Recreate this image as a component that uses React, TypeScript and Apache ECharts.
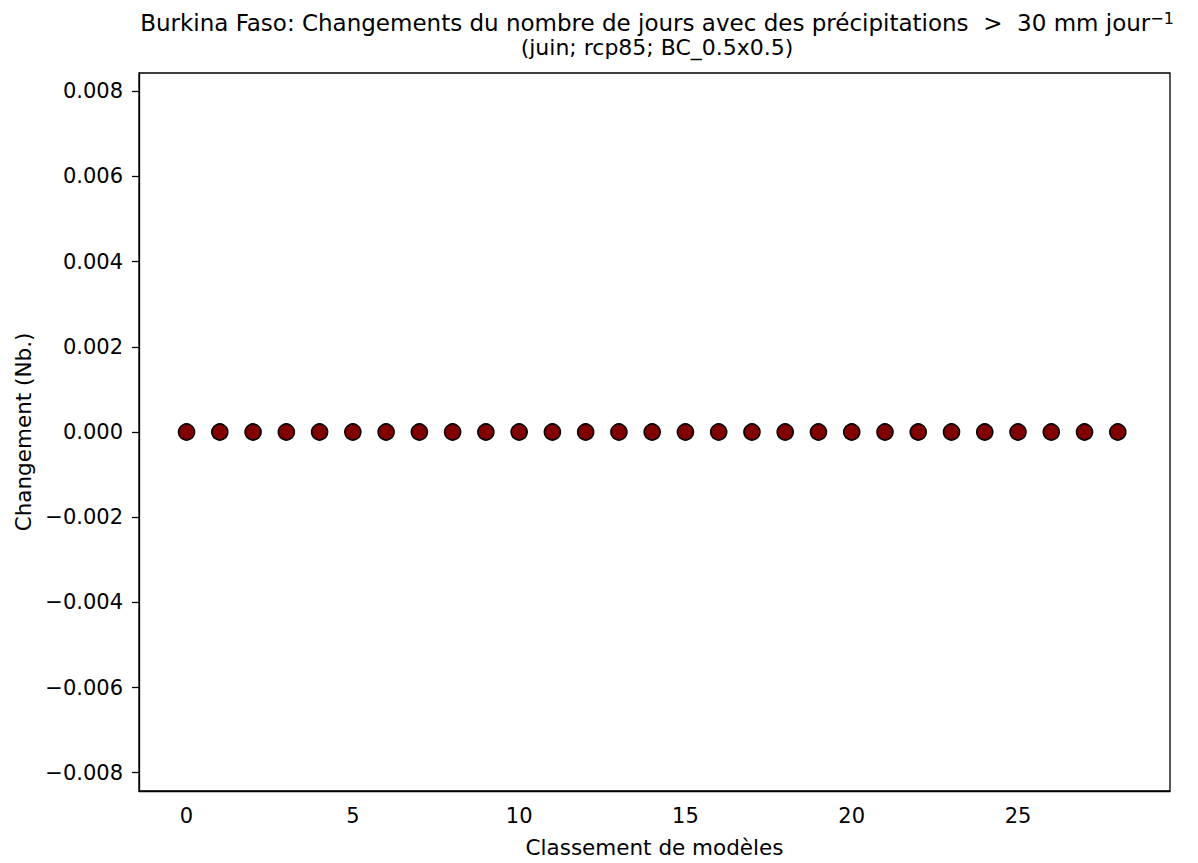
import React, { useEffect, useRef } from "react";
import * as echarts from "echarts";

const modelRanks: number[] = [0, 1, 2, 3, 4, 5, 6, 7, 8, 9, 10, 11, 12, 13, 14, 15, 16, 17, 18, 19, 20, 21, 22, 23, 24, 25, 26, 27, 28];
const changeValues: number[] = [0, 0, 0, 0, 0, 0, 0, 0, 0, 0, 0, 0, 0, 0, 0, 0, 0, 0, 0, 0, 0, 0, 0, 0, 0, 0, 0, 0, 0];
const xTickValues: number[] = [0, 5, 10, 15, 20, 25];
const yTickValues: number[] = [-0.008, -0.006, -0.004, -0.002, 0, 0.002, 0.004, 0.006, 0.008];

const FONT = "DejaVu Sans";

export default function App() {
  const ref = useRef<HTMLDivElement>(null);
  useEffect(() => {
    if (!ref.current) return;
    const chart = echarts.init(ref.current, null, { renderer: "svg" });
    const fmtY = (v: number) => {
      const r = Math.round(v * 1000) / 1000;
      if (Math.abs(r) < 1e-9) return "0.000";
      const s = Math.abs(r).toFixed(3);
      return r < 0 ? "\u2212" + s : s;
    };
    chart.setOption({
      animation: false,
      backgroundColor: "#ffffff",
      title: {
        text: "{l1|Burkina Faso: Changements du nombre de jours avec des précipitations  >  30 mm jour}{sup|\u22121}\n{l2|(juin; rcp85; BC_0.5x0.5)}",
        left: 652,
        top: 5,
        textAlign: "center",
        textStyle: {
          fontFamily: FONT,
          fontSize: 22,
          fontWeight: "normal",
          color: "#000",
          lineHeight: 25,
          rich: {
            l1: { fontFamily: FONT, fontSize: 23, color: "#000", lineHeight: 25 },
            l2: { fontFamily: FONT, fontSize: 22, color: "#000", lineHeight: 25 },
            sup: {
              fontFamily: FONT,
              fontSize: 16,
              color: "#000",
              verticalAlign: "top",
              lineHeight: 25,
              padding: [0, 0, 12, 0],
            },
          },
        },
      },
      grid: {
        left: 139,
        right: 28,
        top: 73,
        bottom: 66,
        show: true,
        borderColor: "#000",
        borderWidth: 1.3,
        backgroundColor: "transparent",
      },
      xAxis: {
        type: "value",
        min: -1.43,
        max: 29.57,
        name: "Classement de modèles",
        nameLocation: "middle",
        nameGap: 45,
        nameTextStyle: { fontFamily: FONT, fontSize: 21.5, color: "#000" },
        axisLine: { show: true, onZero: false, lineStyle: { color: "#000", width: 1.3 } },
        axisTick: { show: false },
        splitLine: { show: false },
        axisLabel: {
          customValues: xTickValues,
          fontFamily: FONT,
          fontSize: 21,
          color: "#000",
          margin: 14,
          formatter: (v: number) => String(v),
        },
      },
      yAxis: {
        type: "value",
        min: -0.00843,
        max: 0.00843,
        name: "Changement (Nb.)",
        nameLocation: "middle",
        nameRotate: 90,
        nameGap: 105,
        nameTextStyle: { fontFamily: FONT, fontSize: 21.5, color: "#000" },
        axisLine: { show: true, onZero: false, lineStyle: { color: "#000", width: 1.3 } },
        axisTick: { show: true, customValues: yTickValues, length: 7, lineStyle: { color: "#000", width: 1.3 } },
        splitLine: { show: false },
        axisLabel: {
          customValues: yTickValues,
          fontFamily: FONT,
          fontSize: 21,
          color: "#000",
          margin: 16,
          formatter: fmtY,
        },
      },
      series: [
        {
          type: "scatter",
          data: modelRanks.map((x, i) => [x, changeValues[i]]),
          symbol: "circle",
          symbolSize: 16,
          itemStyle: { color: "#800000", borderColor: "#000", borderWidth: 1.6, opacity: 1 },
          emphasis: { disabled: true },
        },
      ],
    });
    return () => chart.dispose();
  }, []);
  return <div ref={ref} style={{ position: "fixed", left: 0, top: 0, width: 1198, height: 863 }} />;
}
